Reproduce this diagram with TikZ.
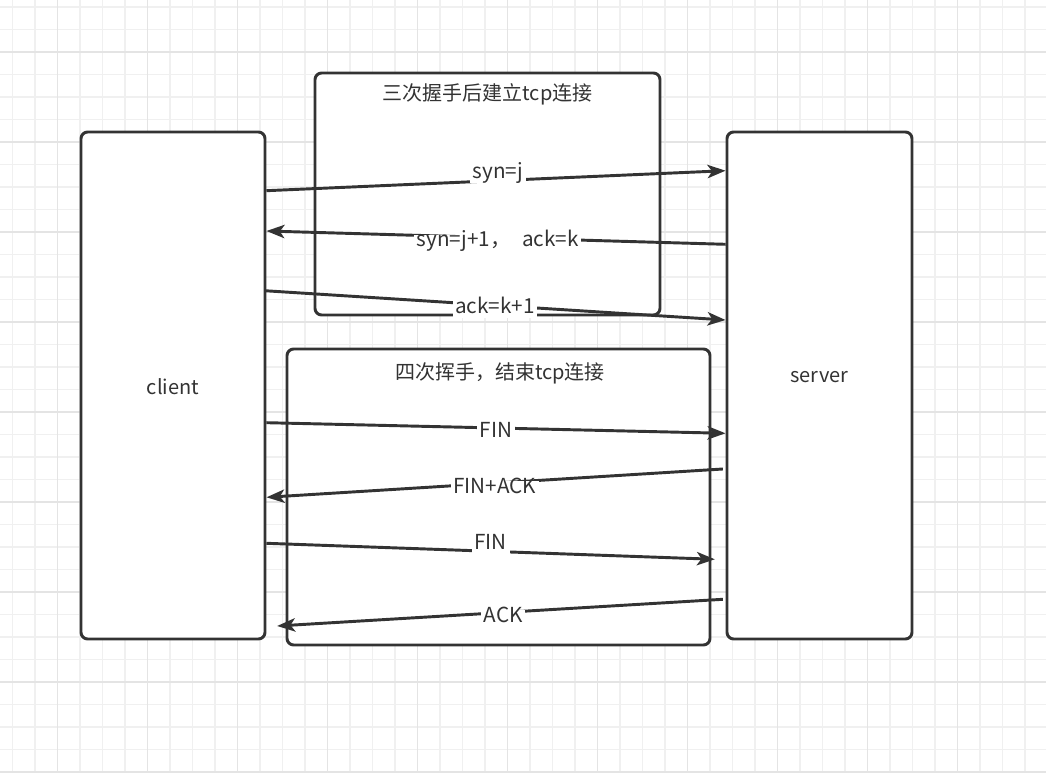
\documentclass[tikz,border=0pt]{standalone}
\usepackage{fontspec}
\setmainfont{Noto Sans CJK SC}
\usetikzlibrary{arrows.meta}
\definecolor{ink}{HTML}{333333}
\definecolor{gridminor}{HTML}{F0F0F0}
\definecolor{gridmajor}{HTML}{E4E4E4}
\begin{document}
\begin{tikzpicture}[x=0.75pt, y=-0.75pt,
  box/.style={draw=ink, fill=white, line width=2.2pt, rounded corners=5pt,
    inner sep=0pt, minimum width=#1},
  msg/.style={draw=ink, line width=2.2pt,
    -{Stealth[length=13.5pt, width=10pt, inset=3.5pt]}},
  lbl/.style={fill=white, text=ink, font=\fontsize{15.5}{18}\selectfont, anchor=base,
    inner xsep=2pt, inner ysep=1pt, text height=0.8em, text depth=0.25em},
  txt/.style={text=ink, font=\fontsize{15}{18}\selectfont, anchor=base, inner sep=0pt},
  gminor/.style={draw=gridminor, line width=0.9pt},
  gmajor/.style={draw=gridmajor, line width=0.9pt}]

\useasboundingbox (0,0) rectangle (1046,773);
\fill[white] (0,0) rectangle (1046,773);

% background grid
\foreach \k in {0,...,45} \draw[gminor] ({12.5+22.5*\k},0) -- ++(0,773);
\foreach \k in {0,...,34} \draw[gminor] (0,{7+22.5*\k}) -- ++(1046,0);
\foreach \k in {0,...,10} \draw[gmajor] ({57.5+90*\k},0) -- ++(0,773);
\foreach \k in {0,...,8} \draw[gmajor] (0,{52+90*\k}) -- ++(1046,0);

% hosts and phase boxes
\node[box=138pt, minimum height=380.25pt] (client) at (173,385.5) {};
\node[box=138.75pt, minimum height=380.25pt] (server) at (819.5,385.5) {};
\node[box=258.75pt, minimum height=181.5pt] (open) at (487.5,194) {};
\node[box=317.25pt, minimum height=222pt] (close) at (498.5,497) {};

\node[txt] (clientname) at (173,395) {client};
\node[txt] (servername) at (819.5,383) {server};
\node[txt] (opentitle) at (487.5,100.3) {三次握手后建立tcp连接};
\node[txt] (closetitle) at (500,379.6) {四次挥手，结束tcp连接};

% three-way handshake
\draw[msg] (client.east |- 0,190.7) -- node[lbl, xshift=1.5pt, yshift=1.8pt] {syn=j} (server.west |- 0,170.7);
\draw[msg] (server.west |- 0,244.3) -- node[lbl, xshift=1.3pt, yshift=-6.8pt] {syn=j+1，\hspace{0.55em}ack=k} (client.east |- 0,231);
\draw[msg] ([xshift=-1.5pt]client.east |- 0,290.7) -- node[lbl, yshift=-6pt] {ack=k+1} (server.west |- 0,320);

% four-way teardown
\draw[msg] (client.east |- 0,422.7) -- node[lbl, yshift=-7pt] {FIN} (server.west |- 0,433.3);
\draw[msg] ([xshift=-2pt]server.west |- 0,469) -- node[lbl, yshift=-7.6pt] {FIN+ACK} (client.east |- 0,497.3);
\draw[msg] (client.east |- 0,543.3) -- node[lbl, yshift=1pt] {FIN} ([xshift=-8pt]server.west |- 0,559.3);
\draw[msg] ([xshift=-2pt]server.west |- 0,599.3) -- node[lbl, xshift=2.5pt, yshift=-7.2pt] {ACK} ([xshift=8pt]client.east |- 0,626);
\end{tikzpicture}
\end{document}
